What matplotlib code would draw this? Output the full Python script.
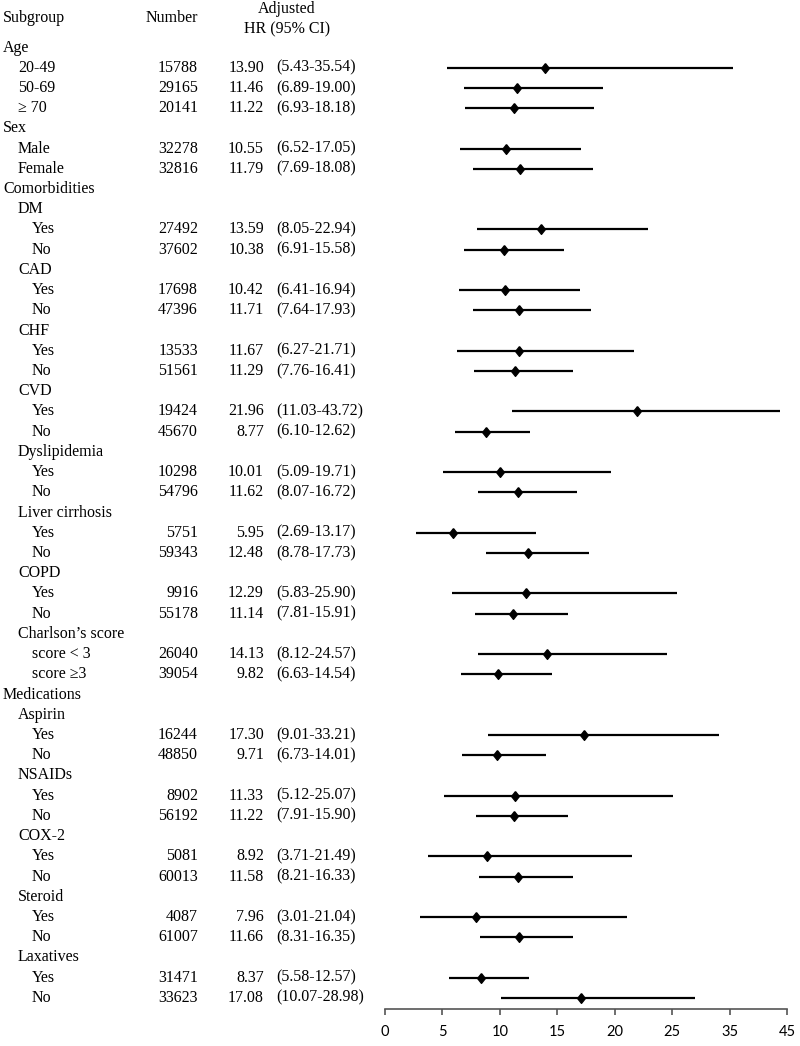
import numpy as np
import matplotlib
matplotlib.use("Agg")
import matplotlib.pyplot as plt
import matplotlib.transforms as mtransforms

labels = ["Age", "20-49", "50-69", "\u2265 70",
          "Sex", "Male", "Female",
          "Comorbidities", "DM", "Yes", "No", "CAD", "Yes", "No",
          "CHF", "Yes", "No", "CVD", "Yes", "No",
          "Dyslipidemia", "Yes", "No", "Liver cirrhosis", "Yes", "No",
          "COPD", "Yes", "No", "Charlson\u2019s score", "score < 3", "score \u22653",
          "Medications", "Aspirin", "Yes", "No", "NSAIDs", "Yes", "No",
          "COX-2", "Yes", "No", "Steroid", "Yes", "No", "Laxatives", "Yes", "No"]
levels = [0, 1, 1, 1,
          0, 1, 1,
          0, 1, 2, 2, 1, 2, 2,
          1, 2, 2, 1, 2, 2,
          1, 2, 2, 1, 2, 2,
          1, 2, 2, 1, 2, 2,
          0, 1, 2, 2, 1, 2, 2,
          1, 2, 2, 1, 2, 2, 1, 2, 2]
numbers = [None, 15788, 29165, 20141,
           None, 32278, 32816,
           None, None, 27492, 37602, None, 17698, 47396,
           None, 13533, 51561, None, 19424, 45670,
           None, 10298, 54796, None, 5751, 59343,
           None, 9916, 55178, None, 26040, 39054,
           None, None, 16244, 48850, None, 8902, 56192,
           None, 5081, 60013, None, 4087, 61007, None, 31471, 33623]
hr = [None, 13.90, 11.46, 11.22,
      None, 10.55, 11.79,
      None, None, 13.59, 10.38, None, 10.42, 11.71,
      None, 11.67, 11.29, None, 21.96, 8.77,
      None, 10.01, 11.62, None, 5.95, 12.48,
      None, 12.29, 11.14, None, 14.13, 9.82,
      None, None, 17.30, 9.71, None, 11.33, 11.22,
      None, 8.92, 11.58, None, 7.96, 11.66, None, 8.37, 17.08]
lo = [None, 5.43, 6.89, 6.93,
      None, 6.52, 7.69,
      None, None, 8.05, 6.91, None, 6.41, 7.64,
      None, 6.27, 7.76, None, 11.03, 6.10,
      None, 5.09, 8.07, None, 2.69, 8.78,
      None, 5.83, 7.81, None, 8.12, 6.63,
      None, None, 9.01, 6.73, None, 5.12, 7.91,
      None, 3.71, 8.21, None, 3.01, 8.31, None, 5.58, 10.07]
hi = [None, 35.54, 19.00, 18.18,
      None, 17.05, 18.08,
      None, None, 22.94, 15.58, None, 16.94, 17.93,
      None, 21.71, 16.41, None, 43.72, 12.62,
      None, 19.71, 16.72, None, 13.17, 17.73,
      None, 25.90, 15.91, None, 24.57, 14.54,
      None, None, 33.21, 14.01, None, 25.07, 15.90,
      None, 21.49, 16.33, None, 21.04, 16.35, None, 12.57, 28.98]

ticks = [0, 5, 10, 15, 20, 25, 35, 45]

W, H = 800, 1046
serif = ["Liberation Serif", "DejaVu Serif"]
fs = 11.5

fig = plt.figure(figsize=(W / 100, H / 100), dpi=100)
axis_y = 1009
ax = fig.add_axes([385 / W, 1 - axis_y / H, (787 - 385) / W, axis_y / H])


# x axis is linear up to 25, then squeezed by half
def fwd(v):
    v = np.asarray(v, dtype=float)
    return np.where(v <= 25, v, 25 + (v - 25) / 2)


def inv(u):
    u = np.asarray(u, dtype=float)
    return np.where(u <= 25, u, 25 + (u - 25) * 2)


ax.set_xscale("function", functions=(fwd, inv))
ax.set_xlim(0, 45)
ax.set_ylim(axis_y, 0)

row0, step = 47.5, 20.22
ys = [row0 + i * step for i in range(len(labels))]

diamond = [(0, 1), (0.8, 0), (0, -1), (-0.8, 0), (0, 1)]
for i in range(len(labels)):
    if hr[i] is None:
        continue
    ax.plot([lo[i], hi[i]], [ys[i], ys[i]], color="black", lw=1.6,
            solid_capstyle="butt", zorder=2)
    ax.plot(hr[i], ys[i], marker=diamond, ms=7, color="black", zorder=3)

for s in ["left", "right", "top"]:
    ax.spines[s].set_visible(False)
ax.spines["bottom"].set_color("#555555")
ax.spines["bottom"].set_linewidth(1.2)
ax.set_yticks([])
ax.set_xticks(ticks)
ax.set_xticklabels([str(t) for t in ticks], fontfamily="Lato", fontsize=10.5)
ax.tick_params(axis="x", direction="out", length=4.5, width=1.2,
               color="#555555", pad=7)
ax.set_facecolor("none")

# text columns, placed in pixel coordinates
trans = mtransforms.Affine2D().scale(1 / W, -1 / H).translate(0, 1) + fig.transFigure


def txt(x, y, s, ha="left"):
    fig.text(x, y, s, ha=ha, va="center", family=serif, fontsize=fs,
             transform=trans)


txt(3, 18, "Subgroup")
txt(198, 18, "Number", ha="right")
txt(287, 9, "Adjusted", ha="center")
txt(287, 29, "HR (95% CI)", ha="center")

indent = [3, 18, 32]
for i in range(len(labels)):
    txt(indent[levels[i]], ys[i], labels[i])
    if numbers[i] is not None:
        txt(198, ys[i], str(numbers[i]), ha="right")
        txt(264, ys[i], "%.2f" % hr[i], ha="right")
        txt(276, ys[i], "(%.2f-%.2f)" % (lo[i], hi[i]))

plt.savefig("out.png", dpi=100)
